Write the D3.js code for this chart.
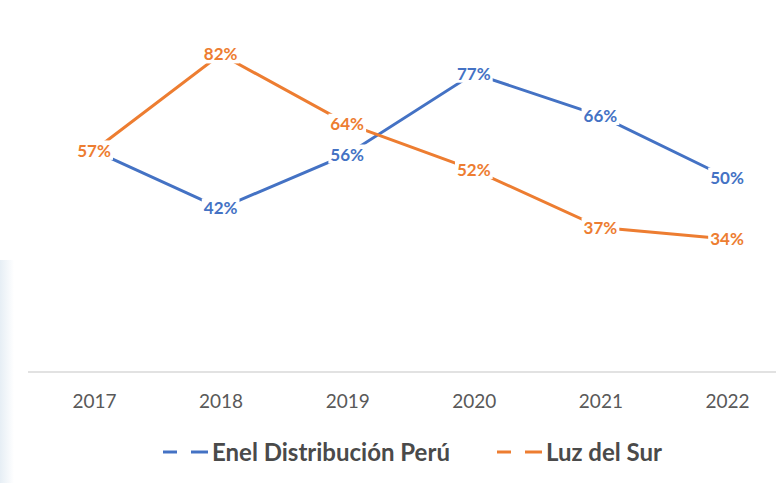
<!DOCTYPE html>
<html><head><meta charset="utf-8">
<script src="https://cdn.jsdelivr.net/npm/d3@7/dist/d3.min.js"></script>
<style>body{margin:0;background:#fff}svg{display:block}</style>
</head><body>
<svg id="c" width="776" height="483"></svg>
<script>
const years = ["2017","2018","2019","2020","2021","2022"];
const enel = [0.57,0.42,0.56,0.77,0.66,0.50];
const luz = [0.57,0.82,0.64,0.52,0.37,0.34];
const seriesNames = ["Enel Distribución Perú","Luz del Sur"];
const colors = ["#4472C4","#ED7D31"];

const svg = d3.select("#c");
// faint left edge tint
const g0 = svg.append("defs").append("linearGradient").attr("id","edge").attr("x1",0).attr("x2",1);
g0.append("stop").attr("offset",0).attr("stop-color","#e6eef5");
g0.append("stop").attr("offset",1).attr("stop-color","#ffffff");
svg.append("rect").attr("x",0).attr("y",260).attr("width",14).attr("height",223).attr("fill","url(#edge)");

const x = d3.scalePoint().domain(years).range([94,727]);
const y = d3.scaleLinear().domain([0,1]).range([370,-15]);

const axis = d3.axisBottom(x).tickSize(0).tickPadding(23);
const ax = svg.append("g").attr("transform","translate(0,372)").call(axis);
ax.select(".domain").remove();
ax.append("line").attr("x1",28).attr("x2",776).attr("y1",0).attr("y2",0).attr("stroke","#d9d9d9").attr("stroke-width",1.5);
ax.selectAll(".tick text").attr("font-family","Lato, sans-serif").attr("font-size",19).attr("fill","#595959");

const data = [enel, luz];
const line = d3.line().x((d,i)=>x(years[i])).y(d=>y(d));
data.forEach((s,k)=>{
  svg.append("path").datum(s).attr("d",line).attr("fill","none").attr("stroke",colors[k]).attr("stroke-width",3);
});
data.forEach((s,k)=>{
  const lg = svg.append("g");
  s.forEach((v,i)=>{
    const t = lg.append("text").attr("x",x(years[i])).attr("y",y(v)).attr("dy","0.36em")
      .attr("text-anchor","middle").attr("font-family","Lato, sans-serif").attr("font-weight",700)
      .attr("font-size",17).attr("fill",colors[k]).text(Math.round(v*100)+"%");
    const b = t.node().getBBox();
    lg.insert("rect","text").attr("x",b.x-2).attr("y",b.y+1).attr("width",b.width+4).attr("height",b.height-2).attr("fill","#fff");
  });
});

// legend
const leg = svg.append("g");
const items = [{x:163},{x:497}];
items.forEach((it,k)=>{
  leg.append("line").attr("x1",it.x).attr("x2",it.x+14).attr("y1",452).attr("y2",452)
    .attr("stroke",colors[k]).attr("stroke-width",3);
  leg.append("line").attr("x1",it.x+28).attr("x2",it.x+45).attr("y1",452).attr("y2",452)
    .attr("stroke",colors[k]).attr("stroke-width",3);
  leg.append("text").attr("x",it.x+49).attr("y",452).attr("dy","0.36em")
    .attr("font-family","Lato, sans-serif").attr("font-weight",700).attr("font-size",24).attr("fill","#4a4a4a")
    .text(seriesNames[k]);
});
</script>
</body></html>
